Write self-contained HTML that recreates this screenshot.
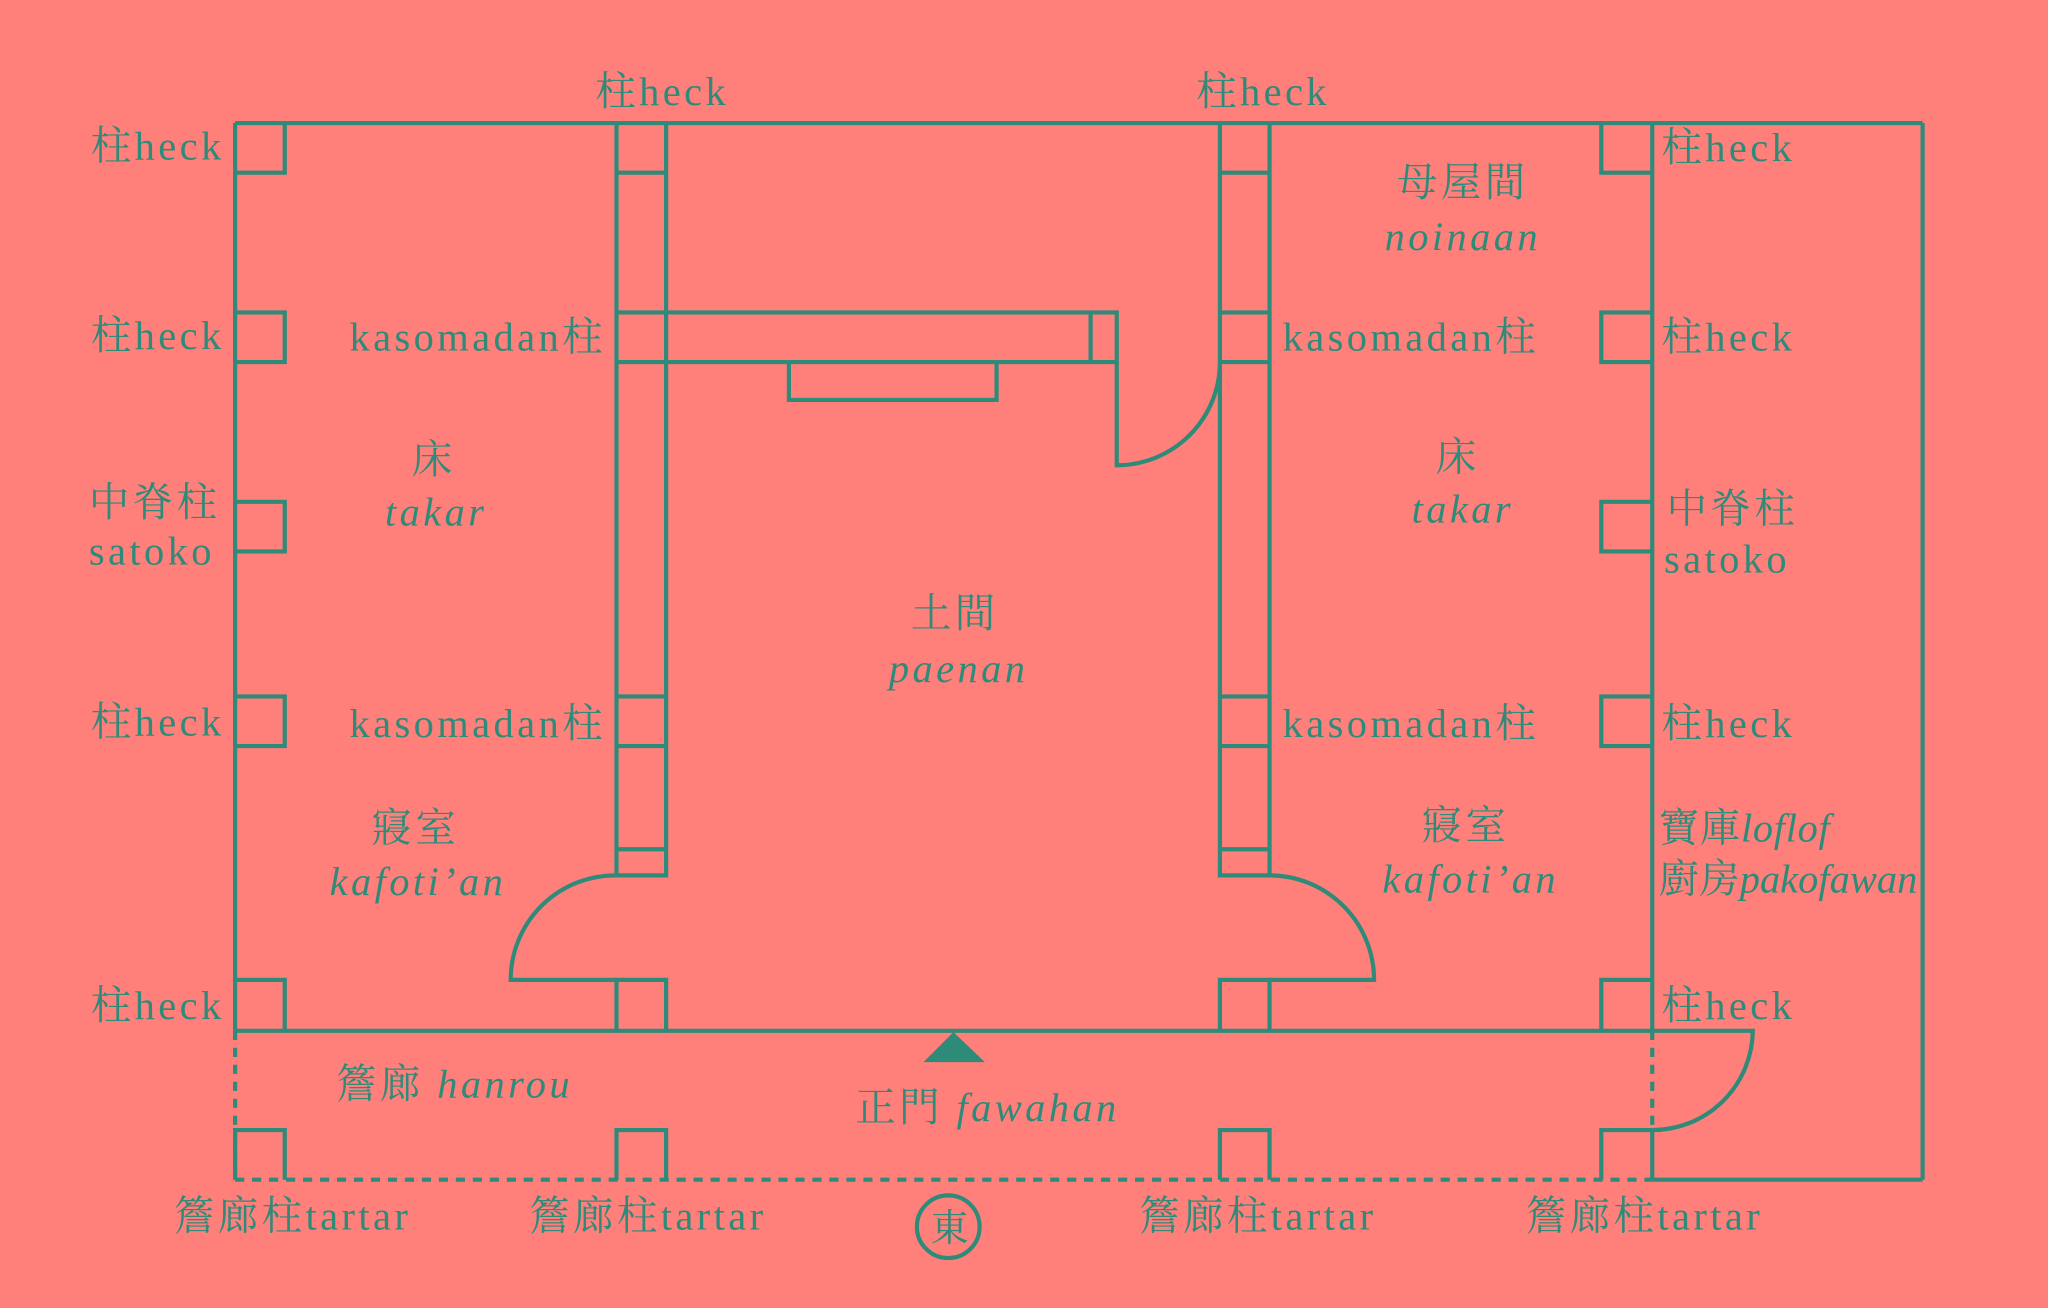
<!DOCTYPE html>
<html><head><meta charset="utf-8"><style>
html,body{margin:0;padding:0;background:#FF7F7B;}
svg{display:block}
text{font-family:"Liberation Serif","Noto Serif CJK SC",serif;fill:#2E8B7A;font-size:31px;letter-spacing:2.6px}
.i{font-style:italic}
</style></head><body>
<svg width="2048" height="1308" viewBox="0 0 1568 1001" xmlns="http://www.w3.org/2000/svg">
<rect width="1568" height="1001" fill="#FF7F7B"/>
<g fill="none" stroke="#2E8B7A" stroke-width="3.2">
<line x1="180" y1="94" x2="1472" y2="94"/>
<line x1="1472" y1="94" x2="1472" y2="903"/>
<line x1="1265" y1="903" x2="1472" y2="903"/>
<line x1="180" y1="94" x2="180" y2="789"/>
<line x1="180" y1="789" x2="1265" y2="789"/>
<line x1="1265" y1="94" x2="1265" y2="789"/>
<line x1="1265" y1="865" x2="1265" y2="903"/>
<g stroke-dasharray="7,6">
<line x1="180" y1="789" x2="180" y2="903"/>
<line x1="180" y1="903" x2="1265" y2="903"/>
<line x1="1265" y1="789" x2="1265" y2="865"/>
</g>
<path d="M180 132H218V94M180 239H218V277H180M180 384H218V422H180M180 533H218V571H180M180 750H218V789"/>
<path d="M180 903V865H218V903M472 903V865H510V903M934 903V865H972V903M1226 903V865H1265"/>
<path d="M1265 132H1226V94M1265 239H1226V277H1265M1265 384H1226V422H1265M1265 533H1226V571H1265M1265 750H1226V789"/>
<path d="M472 94V670H510V94M472 132H510M472 239H510M472 277H510M472 533H510M472 571H510M472 650H510M472 789V750H510V789"/>
<path d="M934 94V670H972V94M934 132H972M934 239H972M934 277H972M934 533H972M934 571H972M934 650H972M934 789V750H972V789"/>
<path d="M510 239H855V277H510M835 239V277M604 277V306H763V277"/>
<path d="M855 277V356A79 79 0 0 0 934 277"/>
<path d="M472 670A80 80 0 0 0 391 750H472"/>
<path d="M972 670A80 80 0 0 1 1052 750H972"/>
<path d="M1265 789H1342A77 77 0 0 1 1265 865"/>
<circle cx="726" cy="939" r="24"/>
</g>
<polygon points="707,813 754,813 730,790" fill="#2E8B7A"/>
<text x="507" y="80" text-anchor="middle">柱heck</text>
<text x="967" y="80" text-anchor="middle">柱heck</text>
<g text-anchor="end">
<text x="172" y="122">柱heck</text>
<text x="172" y="267">柱heck</text>
<text x="172" y="563">柱heck</text>
<text x="172" y="780">柱heck</text>
<text x="464" y="268">kasomadan柱</text>
<text x="464" y="564">kasomadan柱</text>
</g>
<text x="68" y="395">中脊柱</text>
<text x="68" y="432">satoko</text>
<text x="982" y="268">kasomadan柱</text>
<text x="982" y="564">kasomadan柱</text>
<text x="1272" y="123">柱heck</text>
<text x="1272" y="268">柱heck</text>
<text x="1272" y="564">柱heck</text>
<text x="1272" y="780">柱heck</text>
<text x="1276" y="400">中脊柱</text>
<text x="1274" y="438">satoko</text>
<text x="1270" y="644" style="letter-spacing:0.5px">寶庫<tspan class="i">loflof</tspan></text>
<text x="1270" y="683" style="letter-spacing:0px">廚房<tspan class="i">pakofawan</tspan></text>
<g text-anchor="middle">
<text x="1120" y="150">母屋間</text>
<text x="1120" y="191" class="i">noinaan</text>
<text x="332" y="362">床</text>
<text x="334" y="402" class="i">takar</text>
<text x="1116" y="360">床</text>
<text x="1120" y="400" class="i">takar</text>
<text x="731" y="480">土間</text>
<text x="734" y="522" class="i">paenan</text>
<text x="318" y="644">寢室</text>
<text x="320" y="685" class="i">kafoti’an</text>
<text x="1122" y="642">寢室</text>
<text x="1126" y="683" class="i">kafoti’an</text>
<text x="348" y="840">簷廊 <tspan class="i">hanrou</tspan></text>
<text x="756" y="858">正門 <tspan class="i">fawahan</tspan></text>
<text x="224" y="941">簷廊柱tartar</text>
<text x="496" y="941">簷廊柱tartar</text>
<text x="963" y="941">簷廊柱tartar</text>
<text x="1259" y="941">簷廊柱tartar</text>
<text x="727" y="950" style="font-size:29px;letter-spacing:0">東</text>
</g>
</svg>
</body></html>
